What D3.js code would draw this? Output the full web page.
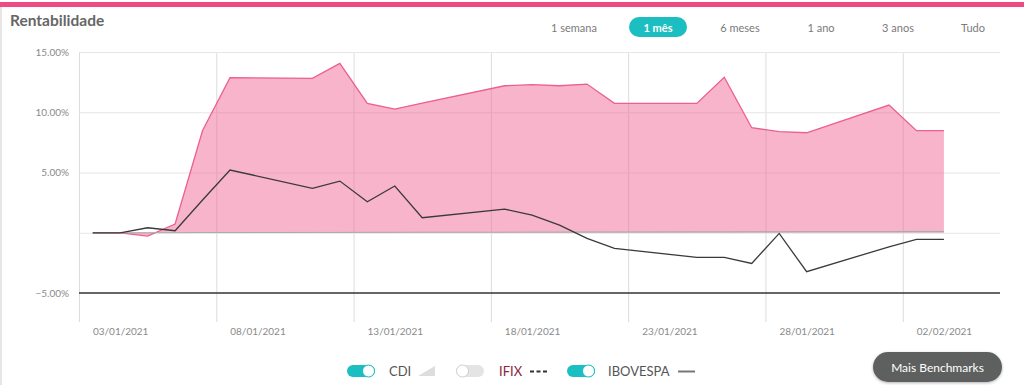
<!DOCTYPE html>
<html>
<head>
<meta charset="utf-8">
<script src="https://cdn.jsdelivr.net/npm/d3@7"></script>
<style>
  body { margin: 0; background: #fff; font-family: Lato, "Open Sans", sans-serif; }
  svg { display: block; }
</style>
</head>
<body>
<div id="chart-container"></div>
<script>
// day offsets from 02/01/2021
const dayIndex = [0, 1, 2, 3, 4, 5, 8, 9, 10, 11, 12, 15, 16, 17, 18, 19, 22, 23, 24, 25, 26, 29, 30, 31];
const carteira = [0, 0, -0.27, 0.73, 8.49, 12.87, 12.82, 14.06, 10.74, 10.27, 10.76, 12.2, 12.29, 12.2, 12.34, 10.74, 10.74, 12.9, 8.72, 8.39, 8.3, 10.6, 8.47, 8.47];
const ibovespa = [0, 0, 0.42, 0.17, 2.72, 5.21, 3.69, 4.29, 2.58, 3.88, 1.25, 1.97, 1.47, 0.64, -0.46, -1.29, -2.04, -2.04, -2.54, -0.05, -3.23, -1.16, -0.54, -0.54];
const cdi = [0, 0, 0.01, 0.01, 0.02, 0.02, 0.03, 0.03, 0.04, 0.04, 0.05, 0.05, 0.06, 0.06, 0.07, 0.07, 0.08, 0.08, 0.09, 0.09, 0.1, 0.1, 0.11, 0.11];
const xTickLabels = ["03/01/2021", "08/01/2021", "13/01/2021", "18/01/2021", "23/01/2021", "28/01/2021", "02/02/2021"];
const yTicks = [-5, 5, 10, 15];
const periods = ["1 semana", "1 mês", "6 meses", "1 ano", "3 anos", "Tudo"];
const legendItems = ["CDI", "IFIX", "IBOVESPA"];

const W = 1024, H = 385;
const plot = { left: 79, right: 1000, top: 52, bottom: 322 };

const parseLabel = d3.timeParse("%d/%m/%Y");
const dayDate = i => new Date(2021, 0, 2 + i);
const data = dayIndex.map((d, i) => ({
  date: dayDate(d), port: carteira[i], ibov: ibovespa[i], cdi: cdi[i]
}));

const x = d3.scaleTime()
  .domain([new Date(2021, 0, 1, 12), new Date(2021, 1, 4, 1)])
  .range([plot.left, plot.right]);
const y = d3.scaleLinear().domain([-7.4, 15]).range([plot.bottom, plot.top]);

const svg = d3.select("#chart-container").append("svg")
  .attr("width", W).attr("height", H);

// moldura
svg.append("rect").attr("x", 0).attr("y", 2).attr("width", W).attr("height", 5).attr("fill", "#ef4a84");
svg.append("rect").attr("x", 0).attr("y", 7).attr("width", 2).attr("height", H - 7).attr("fill", "#e6e6e6");

svg.append("text").attr("x", 10).attr("y", 26)
  .attr("font-size", 15.5).attr("font-weight", 700).attr("fill", "#666")
  .text("Rentabilidade");

// botões de período
const periodX = [574, 658, 740, 821, 898, 973];
periods.forEach((p, i) => {
  const active = p === "1 mês";
  if (active) {
    svg.append("rect").attr("x", periodX[i] - 29).attr("y", 17).attr("width", 58).attr("height", 20)
      .attr("rx", 10).attr("fill", "#1bbfc1");
  }
  svg.append("text").attr("x", periodX[i]).attr("y", 31.5).attr("text-anchor", "middle")
    .attr("font-size", 11).attr("font-weight", active ? 700 : 400)
    .attr("fill", active ? "#fff" : "#7a7a7a").text(p);
});

// grade vertical (meio dia e meio antes dos rótulos)
const labelDates = xTickLabels.map(parseLabel);
const gridDates = labelDates.map(d => d3.timeHour.offset(d, -36));
svg.append("g")
  .attr("transform", `translate(0,${plot.bottom})`)
  .call(d3.axisBottom(x).tickValues(gridDates).tickSize(-(plot.bottom - plot.top)).tickFormat(""))
  .call(g => g.select(".domain").remove())
  .call(g => g.selectAll("line").attr("stroke", "#dcdcdc"));

// grade horizontal
svg.append("g")
  .attr("transform", `translate(${plot.left},0)`)
  .call(d3.axisLeft(y).tickValues([0, 5, 10, 15]).tickSize(-(plot.right - plot.left)).tickFormat(""))
  .call(g => g.select(".domain").remove())
  .call(g => g.selectAll("line").attr("stroke", "#e6e6e6"));

// rótulos do eixo Y
svg.append("g")
  .attr("transform", `translate(${plot.left - 10},0)`)
  .call(d3.axisLeft(y).tickValues(yTicks).tickSize(0).tickPadding(0).tickFormat(d => d3.format(".2f")(d) + "%"))
  .call(g => g.select(".domain").remove())
  .call(g => g.selectAll("text").attr("fill", "#8a8a8a").attr("font-size", 10).attr("font-family", "Lato"));

// linha -5%
svg.append("line")
  .attr("x1", plot.left).attr("x2", plot.right)
  .attr("y1", y(-5)).attr("y2", y(-5))
  .attr("stroke", "#333").attr("stroke-width", 1.5);

// rótulos do eixo X
svg.append("g")
  .attr("transform", `translate(0,${plot.bottom})`)
  .call(d3.axisBottom(x).tickValues(labelDates).tickSize(0).tickPadding(6).tickFormat(d3.timeFormat("%d/%m/%Y")))
  .call(g => g.select(".domain").remove())
  .call(g => g.selectAll("text").attr("fill", "#8a8a8a").attr("font-size", 10).attr("font-family", "Lato"));

// área da carteira
const area = d3.area().x(d => x(d.date)).y0(y(0)).y1(d => y(d.port));
svg.append("path").datum(data)
  .attr("d", area)
  .attr("fill", "#f06292").attr("fill-opacity", 0.48);
svg.append("path").datum(data)
  .attr("d", d3.line().x(d => x(d.date)).y(d => y(d.port)))
  .attr("fill", "none").attr("stroke", "#ec5f8f").attr("stroke-width", 1.3);

// CDI
svg.append("path").datum(data)
  .attr("d", d3.area().x(d => x(d.date)).y0(y(0)).y1(d => y(d.cdi)))
  .attr("fill", "#bbb").attr("fill-opacity", 0.6);
svg.append("path").datum(data)
  .attr("d", d3.line().x(d => x(d.date)).y(d => y(d.cdi)))
  .attr("fill", "none").attr("stroke", "#aaa").attr("stroke-width", 1);

// IBOVESPA
svg.append("path").datum(data)
  .attr("d", d3.line().x(d => x(d.date)).y(d => y(d.ibov)))
  .attr("fill", "none").attr("stroke", "#3a3a3a").attr("stroke-width", 1.3);

// legenda
const legend = svg.append("g").attr("font-size", 13);
const toggle = (cx, on) => {
  legend.append("rect").attr("x", cx).attr("y", 365).attr("width", 28).attr("height", 12).attr("rx", 6)
    .attr("fill", on ? "#1bbfc1" : "#e4e4e4");
  legend.append("circle").attr("cx", on ? cx + 21.5 : cx + 6.5).attr("cy", 371).attr("r", 6)
    .attr("fill", "#fff").attr("stroke", on ? "#1bbfc1" : "#d0d0d0").attr("stroke-width", 1);
};
toggle(347, true);
legend.append("text").attr("x", 389).attr("y", 376).attr("fill", "#555").text(legendItems[0]);
legend.append("path").attr("d", "M418,376 L435,376 L435,366 Z").attr("fill", "#ddd");
toggle(456, false);
legend.append("text").attr("x", 499).attr("y", 376).attr("fill", "#8c2443").text(legendItems[1]);
legend.append("line").attr("x1", 530).attr("x2", 547).attr("y1", 371.5).attr("y2", 371.5)
  .attr("stroke", "#333").attr("stroke-width", 2).attr("stroke-dasharray", "4,2.5");
toggle(567, true);
legend.append("text").attr("x", 608).attr("y", 376).attr("fill", "#555").text(legendItems[2]);
legend.append("line").attr("x1", 678).attr("x2", 695).attr("y1", 371.5).attr("y2", 371.5)
  .attr("stroke", "#777").attr("stroke-width", 2);

// botão Mais Benchmarks
const defs = svg.append("defs");
const f = defs.append("filter").attr("id", "sh").attr("x", "-20%").attr("y", "-30%").attr("width", "140%").attr("height", "160%");
f.append("feDropShadow").attr("dx", 0).attr("dy", 1).attr("stdDeviation", 1.5).attr("flood-opacity", 0.3);
svg.append("rect").attr("x", 873).attr("y", 352).attr("width", 129).attr("height", 30).attr("rx", 15)
  .attr("fill", "#5d615f").attr("filter", "url(#sh)");
svg.append("text").attr("x", 937.5).attr("y", 371.5).attr("text-anchor", "middle")
  .attr("font-size", 12).attr("fill", "#fff").text("Mais Benchmarks");
</script>
</body>
</html>
